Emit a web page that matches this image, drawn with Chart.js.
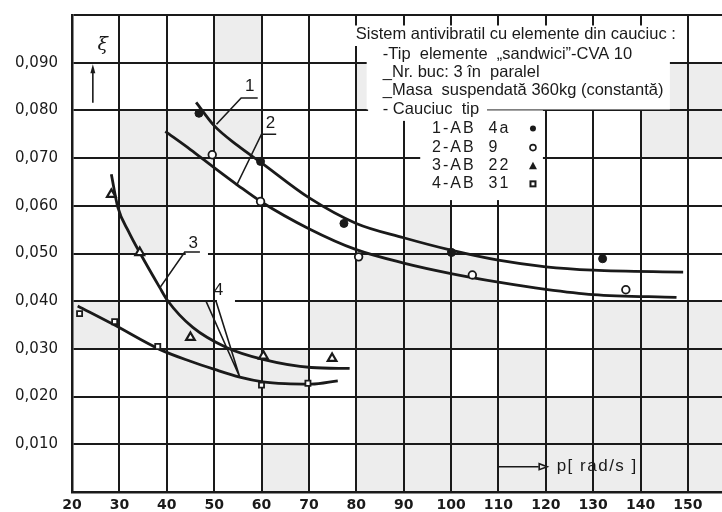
<!DOCTYPE html>
<html>
<head>
<meta charset="utf-8">
<script src="https://cdn.jsdelivr.net/npm/chart.js@4.4.1/dist/chart.umd.min.js"></script>
<style>
html, body { margin: 0; padding: 0; background: #fff; }
</style>
</head>
<body>
<canvas id="chart" width="722" height="512"></canvas>
<script>
// Axis ticks
const xTicks = [20, 30, 40, 50, 60, 70, 80, 90, 100, 110, 120, 130, 140, 150];
const yTicks = [0, 0.01, 0.02, 0.03, 0.04, 0.05, 0.06, 0.07, 0.08, 0.09, 0.1];
const yTickLabels = ['', '0,010', '0,020', '0,030', '0,040', '0,050', '0,060', '0,070', '0,080', '0,090', ''];

// Measured points (p [rad/s], damping)
const ab4aX = [46.8, 59.8, 77.4, 100.1, 132.0];
const ab4aY = [0.0794, 0.0693, 0.0563, 0.0502, 0.0489];
const ab9X = [49.6, 59.8, 80.5, 104.5, 136.9];
const ab9Y = [0.0707, 0.0609, 0.0493, 0.0455, 0.0424];
const ab22X = [28.3, 34.3, 45.0, 60.4, 74.9];
const ab22Y = [0.0624, 0.0502, 0.0324, 0.0285, 0.0280];
const ab31X = [21.6, 29.0, 38.1, 60.0, 69.8];
const ab31Y = [0.0374, 0.0357, 0.0305, 0.0224, 0.0228];

// Drawn fit curves
const curve1X = [46.2, 50, 55, 60, 70, 80, 90, 100, 110, 120, 130, 149];
const curve1Y = [0.0817, 0.0768, 0.0726, 0.0690, 0.0617, 0.0563, 0.0533, 0.0507, 0.0486, 0.0472, 0.0465, 0.0461];
const curve2X = [39.7, 45, 50, 55, 60, 70, 80, 90, 100, 110, 120, 130, 147.6];
const curve2Y = [0.0756, 0.0718, 0.0680, 0.0643, 0.0608, 0.0552, 0.0508, 0.0480, 0.0458, 0.0440, 0.0425, 0.0414, 0.0408];
const curve3X = [28.3, 29.7, 32, 34.3, 38.5, 40.2, 45.5, 52.6, 60.3, 70.5, 78.6];
const curve3Y = [0.0666, 0.0596, 0.0545, 0.0502, 0.0429, 0.0401, 0.0345, 0.0303, 0.0278, 0.0261, 0.0259];
const curve4X = [21.2, 28.6, 38.5, 45, 50.1, 55.4, 60.3, 65, 70.5, 76.1];
const curve4Y = [0.0390, 0.0352, 0.0299, 0.0274, 0.0257, 0.0241, 0.0231, 0.0227, 0.0226, 0.0233];

const legendLines = [
    'Sistem antivibratil cu elemente din cauciuc :',
    '-Tip  elemente  \u201esandwici\u201d-CVA 10',
    '_Nr. buc: 3 \u00een  paralel',
    '_Masa  suspendat\u0103 360kg (constant\u0103)',
    '- Cauciuc  tip'
];
const legendEntries = ['1-AB  4a', '2-AB  9', '3-AB  22', '4-AB  31'];

const ink = '#1a1a1a';
const paperGrey = '#ededed';

function pairs(xs, ys) {
    return xs.map((x, i) => ({ x: x, y: ys[i] }));
}

// shaded cells of the scanned sheet (lower-left corner of each cell)
const greyCells = [
    [50, 0.09], [80, 0.08], [140, 0.08], [150, 0.08], [140, 0.07], [150, 0.07],
    [30, 0.07], [40, 0.07], [50, 0.07], [30, 0.06], [40, 0.06], [30, 0.05],
    [90, 0.05], [120, 0.05], [80, 0.04], [90, 0.04], [100, 0.04],
    [20, 0.03], [40, 0.03], [70, 0.03], [80, 0.03], [90, 0.03], [100, 0.03], [130, 0.03], [140, 0.03], [150, 0.03],
    [40, 0.02], [50, 0.02], [60, 0.02], [80, 0.02], [90, 0.02], [110, 0.02], [130, 0.02], [140, 0.02], [150, 0.02],
    [80, 0.01], [90, 0.01], [100, 0.01], [110, 0.01], [120, 0.01], [130, 0.01], [140, 0.01], [150, 0.01],
    [60, 0], [80, 0], [90, 0], [100, 0], [110, 0], [120, 0], [130, 0], [140, 0], [150, 0]
];

const sheetPlugin = {
    id: 'sheet',
    beforeDraw(chart) {
        const { ctx, chartArea } = chart;
        const x = chart.scales.x, y = chart.scales.y;
        ctx.save();
        ctx.fillStyle = '#fff';
        ctx.fillRect(0, 0, chart.width, chart.height);
        ctx.fillStyle = paperGrey;
        greyCells.forEach(([cx, cy]) => {
            const x0 = x.getPixelForValue(cx);
            const x1 = Math.min(x.getPixelForValue(cx + 10), chartArea.right);
            const y0 = y.getPixelForValue(cy + 0.01);
            const y1 = y.getPixelForValue(cy);
            ctx.fillRect(x0, y0, x1 - x0, y1 - y0);
        });
        ctx.restore();
    },
    beforeDatasetsDraw(chart) {
        const { ctx } = chart;
        const x = chart.scales.x, y = chart.scales.y;
        // white areas where the grid was covered by the legend and labels
        const patches = [
            [79.2, 0.0978, 149.6, 0.0935],
            [82.2, 0.0935, 146.2, 0.0802],
            [82.5, 0.0812, 107.6, 0.0778],
            [93.5, 0.0800, 119.4, 0.0612],
            [44.0, 0.0508, 48.7, 0.0494],
            [50.6, 0.0406, 54.4, 0.0394]
        ];
        ctx.save();
        ctx.fillStyle = '#fff';
        patches.forEach(([xa, ya, xb, yb]) => {
            const px = x.getPixelForValue(xa), py = y.getPixelForValue(ya);
            ctx.fillRect(px, py, x.getPixelForValue(xb) - px, y.getPixelForValue(yb) - py);
        });
        ctx.restore();
    },
    afterDatasetsDraw(chart) {
        const { ctx } = chart;
        const x = chart.scales.x, y = chart.scales.y;
        const P = (a, b) => [x.getPixelForValue(a), y.getPixelForValue(b)];
        const path = (pts) => {
            ctx.beginPath();
            pts.forEach(([a, b], i) => {
                const [px, py] = P(a, b);
                if (i === 0) ctx.moveTo(px, py); else ctx.lineTo(px, py);
            });
            ctx.stroke();
        };
        const text = (s, a, b) => {
            const [px, py] = P(a, b);
            ctx.fillText(s, px, py);
        };

        ctx.save();
        ctx.strokeStyle = ink;
        ctx.fillStyle = ink;
        ctx.lineWidth = 1.6;

        // curve labels with leaders
        path([[50.5, 0.0771], [55.7, 0.0826], [59.2, 0.0826]]);
        path([[54.7, 0.0642], [60, 0.0750], [63.1, 0.0750]]);
        path([[38.6, 0.0429], [43.8, 0.0503], [47, 0.0503]]);
        path([[50.4, 0.0400], [48.3, 0.0400], [55.4, 0.0241], [50.4, 0.0400]]);
        ctx.font = '17px "Liberation Sans", sans-serif';
        ctx.textAlign = 'center';
        ctx.textBaseline = 'middle';
        text('1', 57.5, 0.0850);
        text('2', 61.9, 0.0772);
        text('3', 45.6, 0.0522);
        text('4', 50.9, 0.0423);

        // quantity on the y axis
        ctx.font = 'italic 19px "DejaVu Serif", serif';
        text('\u03be', 26.5, 0.0938);
        path([[24.4, 0.0816], [24.4, 0.0885]]);
        let [ax, ay] = P(24.4, 0.0897);
        ctx.beginPath();
        ctx.moveTo(ax, ay);
        ctx.lineTo(ax - 2.5, ay + 9);
        ctx.lineTo(ax + 2.5, ay + 9);
        ctx.closePath();
        ctx.fill();

        // quantity on the x axis
        path([[110, 0.0053], [118.5, 0.0053]]);
        [ax, ay] = P(120.3, 0.0053);
        ctx.beginPath();
        ctx.moveTo(ax, ay);
        ctx.lineTo(ax - 8, ay - 3);
        ctx.lineTo(ax - 8, ay + 3);
        ctx.closePath();
        ctx.stroke();
        ctx.textAlign = 'left';
        ctx.font = '17px "Liberation Sans", sans-serif';
        ctx.letterSpacing = '1.5px';
        text('p[ rad/s ]', 122.3, 0.0053);

        // legend block
        ctx.font = '16.5px "Liberation Sans", sans-serif';
        ctx.letterSpacing = '0px';
        const rowY = [0.0960, 0.0918, 0.0880, 0.0841, 0.0803];
        text(legendLines[0], 79.9, rowY[0]);
        for (let i = 1; i < legendLines.length; i++) {
            text(legendLines[i], 85.6, rowY[i]);
        }
        ctx.font = '16px "Liberation Sans", sans-serif';
        ctx.letterSpacing = '2px';
        const entryY = [0.0762, 0.0722, 0.0684, 0.0646];
        legendEntries.forEach((s, i) => text(s, 96.0, entryY[i]));
        ctx.letterSpacing = '0px';

        ctx.lineWidth = 1.6;
        let [mx, my] = P(117.3, entryY[0]);
        ctx.beginPath(); ctx.arc(mx, my, 3, 0, Math.PI * 2); ctx.fill();
        [mx, my] = P(117.3, entryY[1]);
        ctx.beginPath(); ctx.arc(mx, my, 3, 0, Math.PI * 2); ctx.stroke();
        [mx, my] = P(117.3, entryY[2]);
        ctx.beginPath(); ctx.moveTo(mx, my - 4); ctx.lineTo(mx + 4, my + 3.5); ctx.lineTo(mx - 4, my + 3.5); ctx.closePath(); ctx.fill();
        [mx, my] = P(117.3, entryY[3]);
        ctx.lineWidth = 2;
        ctx.strokeRect(mx - 2.5, my - 2.5, 5, 5);

        ctx.restore();
    }
};

function markerSet(xs, ys, style, radius, fill, width) {
    return {
        data: pairs(xs, ys),
        showLine: false,
        pointStyle: style,
        pointRadius: radius,
        pointBackgroundColor: fill,
        pointBorderColor: ink,
        pointBorderWidth: width,
        order: 0
    };
}

function curveSet(xs, ys) {
    return {
        data: pairs(xs, ys),
        showLine: true,
        borderColor: ink,
        borderWidth: 2.8,
        pointRadius: 0,
        cubicInterpolationMode: 'monotone',
        fill: false,
        order: 1
    };
}

new Chart(document.getElementById('chart'), {
    type: 'scatter',
    data: {
        datasets: [
            markerSet(ab4aX, ab4aY, 'circle', 4, ink, 1),
            markerSet(ab9X, ab9Y, 'circle', 3.8, '#fff', 1.8),
            markerSet(ab22X, ab22Y, 'triangle', 5, '#fff', 2.2),
            markerSet(ab31X, ab31Y, 'rect', 3.6, '#fff', 1.8),
            curveSet(curve1X, curve1Y),
            curveSet(curve2X, curve2Y),
            curveSet(curve3X, curve3Y),
            curveSet(curve4X, curve4Y)
        ]
    },
    options: {
        responsive: false,
        animation: false,
        devicePixelRatio: 1,
        layout: { autoPadding: false, padding: { top: 15, left: 0, right: 0, bottom: 0 } },
        plugins: {
            legend: { display: false },
            tooltip: { enabled: false }
        },
        scales: {
            x: {
                type: 'linear',
                min: 20,
                max: 157.2,
                afterBuildTicks: (scale) => { scale.ticks = xTicks.map(v => ({ value: v })); },
                afterFit: (scale) => {
                    scale.height = 20;
                    scale.paddingLeft = 0;
                    scale.paddingRight = 0;
                },
                ticks: {
                    padding: 5,
                    maxRotation: 0,
                    autoSkip: false,
                    color: ink,
                    font: { family: '"DejaVu Sans", sans-serif', size: 14, weight: 'bold' }
                },
                grid: { color: ink, lineWidth: 2, drawTicks: false },
                border: { display: true, color: ink, width: 2.5 }
            },
            y: {
                type: 'linear',
                min: 0,
                max: 0.1,
                afterBuildTicks: (scale) => { scale.ticks = yTicks.map(v => ({ value: v })); },
                afterFit: (scale) => {
                    scale.width = 72;
                    scale.paddingTop = 0;
                    scale.paddingBottom = 0;
                },
                ticks: {
                    padding: 14,
                    autoSkip: false,
                    color: ink,
                    font: { family: '"DejaVu Sans", sans-serif', size: 15 },
                    callback: (value, index) => yTickLabels[index]
                },
                grid: { color: ink, lineWidth: 2, drawTicks: false },
                border: { display: true, color: ink, width: 2.5 }
            }
        }
    },
    plugins: [sheetPlugin]
});
</script>
</body>
</html>
